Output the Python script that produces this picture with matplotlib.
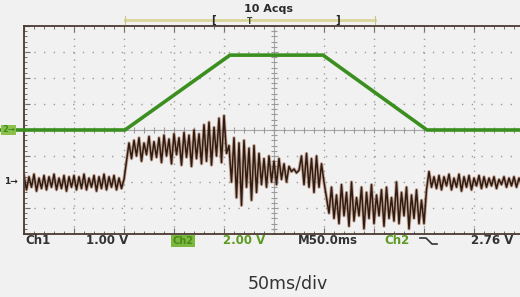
import numpy as np
import matplotlib.pyplot as plt
from matplotlib.lines import Line2D
from matplotlib.ticker import MultipleLocator

W, H = 520, 297

# Ch1 trace, divisions (1.00 V/div), sampled every 2.5 ms
ch1_dt = 2.5
ch1_seg_base = [-1.75, -2.3, -1.8, -2.2, -1.7, -2.35, -1.85, -2.25, -1.75, -2.3,
                -1.8, -2.2, -1.7, -2.3, -1.85, -2.25, -1.75, -2.35, -1.8, -2.2,
                -1.75, -2.3, -1.8, -2.25, -1.7, -2.3, -1.85, -2.2, -1.75, -2.35,
                -1.8, -2.25, -1.7, -2.3, -1.8, -2.2, -1.75, -2.3, -1.85, -2.25]
ch1_seg_high = [-1.9, -1.2, -0.5,
                -1.1, -0.4, -1.0, -0.3, -1.2, -0.5, -0.95, -0.25, -1.15, -0.45,
                -1.05, -0.3, -1.25, -0.2, -1.0, -0.35, -1.3, -0.15, -0.95, -0.3,
                -1.35, -0.1, -1.05, -0.2, -1.4, 0.0, -1.1, -0.15, -1.3, 0.2,
                -1.2, 0.3, -1.35, 0.1, -1.0, 0.45, -1.25, 0.55, -0.9]
ch1_seg_fall = [-0.6, -2.0, -0.3, -2.6, -0.5, -2.9, -0.4, -2.2, -0.7, -2.7,
                -0.6, -2.4, -0.9,
                -2.1, -1.1, -2.2, -1.0, -2.0, -1.2, -2.1, -1.1, -1.9, -1.3,
                -2.0, -1.4,
                -1.6, -1.5, -1.65, -1.55,
                -1.0, -2.1, -0.9, -2.2, -1.1, -2.4, -1.0, -2.2, -1.3, -2.0,
                -2.6, -3.2]
ch1_seg_low = [-2.2, -3.4, -2.5, -3.6, -2.1, -3.3, -2.4, -3.7, -2.0, -3.5,
               -2.6, -3.3, -2.2, -3.8, -2.4, -3.4, -2.1, -3.6, -2.5, -3.3,
               -2.3, -3.7, -2.2, -3.4, -2.6, -3.5, -2.0, -3.6, -2.4, -3.3,
               -2.2, -3.8, -2.5, -3.4, -2.3, -3.6, -2.7,
               -3.6, -2.3]
ch1_seg_end = [-1.6, -2.2, -1.8, -2.25, -1.75, -2.3, -1.8, -2.15, -1.7, -2.3,
               -1.85, -2.2, -1.7, -2.35, -1.8, -2.2, -1.75, -2.3, -1.85, -2.15,
               -1.75, -2.25, -1.8, -2.2, -1.85, -2.15, -1.8, -2.25, -1.9, -2.1,
               -1.8, -2.2, -1.85, -2.15, -1.8, -2.2, -1.85, -2.1]
ch1 = ch1_seg_base + ch1_seg_high + ch1_seg_fall + ch1_seg_low + ch1_seg_end
ch1_t = np.arange(len(ch1)) * ch1_dt

# Ch2 ramp, divisions (2.00 V/div)
ch2_t = [0, 101, 206, 299, 403, 500]
ch2 = [0, 0, 2.88, 2.88, 0, 0]

# status line readout: (text, centre x in px, colour key)
status = [("Ch1", 38, "d"), ("1.00 V", 107, "d"), ("2.00 V", 244, "g"),
          ("M50.0ms", 328, "d"), ("Ch2", 397, "g"), ("2.76 V", 492, "d")]

bg = "#f1f1f1"
fig = plt.figure(figsize=(W / 100, H / 100), dpi=100, facecolor=bg)
ax = fig.add_axes([24 / W, 1 - 234 / H, 500 / W, 208 / H])
ax.set_facecolor(bg)
ax.set_xlim(0, 500)
ax.set_ylim(-4, 4)

# graticule
for gx in range(50, 500, 50):
    if gx != 250:
        ax.axvline(gx, color="#9c9c9c", lw=1.0, ls=(0, (1, 4)))
for gy in range(-3, 4):
    if gy != 0:
        ax.axhline(gy, color="#9c9c9c", lw=1.0, ls=(0, (1, 6)))
ax.axvline(250, color="#a8a8a8", lw=0.8)
ax.axhline(0, color="#a8a8a8", lw=0.8)
cy = np.arange(-4, 4.01, 0.2)
cx = np.arange(0, 500.1, 10)
ax.plot(np.full_like(cy, 250), cy, ls="none", marker="_", ms=5, mew=0.8, color="#999999")
ax.plot(cx, np.zeros_like(cx), ls="none", marker="|", ms=5, mew=0.8, color="#999999")

for s in ["left", "top", "bottom"]:
    ax.spines[s].set_color("#4a3a32")
    ax.spines[s].set_linewidth(1.3)
ax.spines["right"].set_visible(False)
ax.xaxis.set_major_locator(MultipleLocator(50))
ax.xaxis.set_minor_locator(MultipleLocator(10))
ax.yaxis.set_major_locator(MultipleLocator(1))
ax.yaxis.set_minor_locator(MultipleLocator(0.2))
ax.tick_params(which="both", direction="in", top=True, bottom=True, left=True,
               labelbottom=False, labelleft=False, color="#7a6a60")
ax.tick_params(which="major", length=4, width=0.8)
ax.tick_params(which="minor", length=2.5, width=0.7)

# traces
ax.plot(ch1_t, ch1, color="#9a5a3c", lw=2.4, alpha=0.5)
ax.plot(ch1_t, ch1, color="#2e1c12", lw=1.1)
ax.plot(ch2_t, ch2, color="#3b8f1e", lw=2.6, solid_capstyle="butt")

# left markers
fig.add_artist(Line2D([0, 24 / W], [1 - 130 / H] * 2, color="#3b8f1e", lw=2.6))
fig.text(2 / W, 1 - 130 / H, "2\u2192", fontsize=6, fontweight="bold", color="#3b8f1e",
         va="center", bbox=dict(boxstyle="square,pad=0.1", fc="#8cc04a", ec="none"))
fig.text(4 / W, 1 - 182 / H, "1\u2192", fontsize=6.5, fontweight="bold", color="#2a2a2a",
         va="center")

# acquisition bar at top
fig.add_artist(Line2D([125 / W, 375 / W], [1 - 20 / H] * 2, color="#d9d59a", lw=2))
for bx in [125, 375]:
    fig.add_artist(Line2D([bx / W] * 2, [1 - 16 / H, 1 - 24 / H], color="#c8c48a", lw=0.8))
fig.text(213 / W, 1 - 20 / H, "[", fontsize=7.5, fontweight="bold", color="#2a2a2a", ha="center", va="center")
fig.text(338 / W, 1 - 20 / H, "]", fontsize=7.5, fontweight="bold", color="#2a2a2a", ha="center", va="center")
fig.text(250 / W, 1 - 21.5 / H, "T", fontsize=5.5, fontweight="bold", color="#3a4a2a", ha="center", va="center")
fig.text(269 / W, 1 - 9 / H, "10 Acqs", fontsize=8, fontweight="bold", color="#2a2a2a",
         ha="center", va="center")

# status line
ty = 1 - 241 / H
colours = {"d": "#333333", "g": "#5c9a22"}
for txt, px, c in status:
    fig.text(px / W, ty, txt, fontsize=8.5, fontweight="bold", color=colours[c],
             ha="center", va="center")
fig.text(183 / W, ty, "Ch2", fontsize=7, fontweight="bold", color="#4a8a1a",
         ha="center", va="center",
         bbox=dict(boxstyle="square,pad=0.15", fc="#7cb83e", ec="none"))
fig.add_artist(Line2D([420 / W, 426 / W, 432 / W, 437 / W],
                      [1 - 238 / H, 1 - 238 / H, 1 - 244 / H, 1 - 244 / H],
                      color="#333333", lw=1.2))

fig.text(288 / W, 1 - 283 / H, "50ms/div", fontsize=12.5, color="#333333",
         ha="center", va="center")

fig.savefig("out.png", dpi=100, facecolor=bg)
